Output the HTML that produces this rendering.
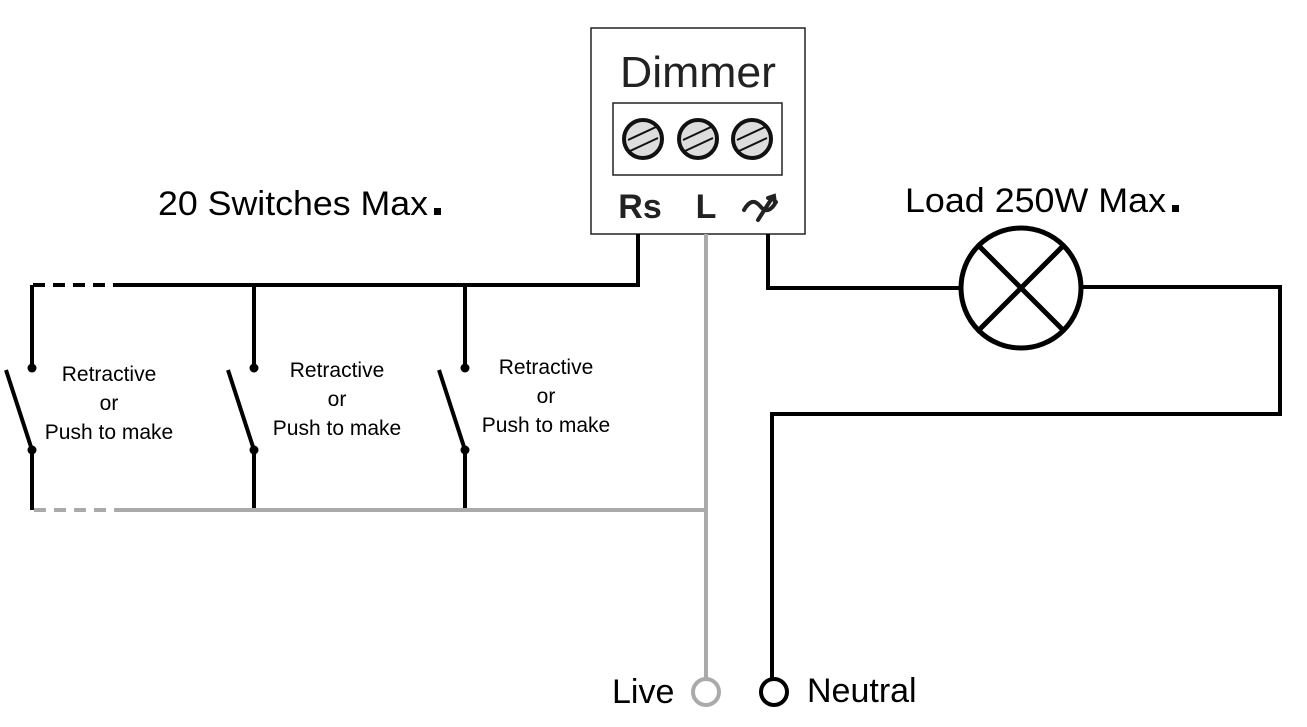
<!DOCTYPE html>
<html><head><meta charset="utf-8"><style>
html,body{margin:0;padding:0;background:#fff;}
svg{display:block;}
text{font-family:"Liberation Sans",sans-serif;}
</style></head><body>
<svg width="1307" height="727" viewBox="0 0 1307 727" xmlns="http://www.w3.org/2000/svg">
<rect x="591" y="28" width="214" height="206" fill="#fff" stroke="#222" stroke-width="1.5"/>
<text x="698" y="87" font-size="44" text-anchor="middle" fill="#222" textLength="156" lengthAdjust="spacingAndGlyphs">Dimmer</text>
<rect x="613" y="103" width="169" height="72" fill="#fff" stroke="#222" stroke-width="1.5"/>
<g stroke="#111" stroke-width="4" fill="#ddd">
<circle cx="643" cy="139" r="19"/><circle cx="698" cy="139" r="19"/><circle cx="752" cy="139" r="19"/>
</g>
<g stroke="#111" stroke-width="2">
<line x1="628" y1="140" x2="656" y2="127"/><line x1="630" y1="151" x2="658" y2="138"/>
<line x1="683" y1="140" x2="711" y2="127"/><line x1="685" y1="151" x2="713" y2="138"/>
<line x1="737" y1="140" x2="765" y2="127"/><line x1="739" y1="151" x2="767" y2="138"/>
</g>
<text x="640" y="218" font-size="34" font-weight="bold" text-anchor="middle" fill="#222">Rs</text>
<text x="706" y="218" font-size="34" font-weight="bold" text-anchor="middle" fill="#222">L</text>
<path d="M744 210 Q752 196 760 206 Q768 216 776 202 M758 220 L772 198 M768 198 L774 196 L775 203" stroke="#222" stroke-width="4" fill="none" stroke-linecap="round"/>
<text x="158" y="215" font-size="34" fill="#000" textLength="270" lengthAdjust="spacingAndGlyphs">20 Switches Max</text>
<rect x="434" y="208" width="7" height="7" fill="#000"/>
<text x="905" y="212" font-size="34" fill="#000" textLength="261" lengthAdjust="spacingAndGlyphs">Load 250W Max</text>
<rect x="1172" y="205" width="7" height="7" fill="#000"/>
<g stroke="#000" stroke-width="4" fill="none">
<line x1="33" y1="285" x2="125" y2="285" stroke-dasharray="12,8"/>
<polyline points="125,285 638,285 638,234"/>
<line x1="32" y1="285" x2="32" y2="368"/>
<line x1="254" y1="285" x2="254" y2="368"/>
<line x1="465" y1="285" x2="465" y2="368"/>
<line x1="6" y1="370" x2="32" y2="450"/>
<line x1="228" y1="370" x2="254" y2="450"/>
<line x1="439" y1="370" x2="465" y2="450"/>
<line x1="32" y1="450" x2="32" y2="510"/>
<line x1="254" y1="450" x2="254" y2="510"/>
<line x1="465" y1="450" x2="465" y2="510"/>
<polyline points="768,234 768,288 960,288"/>
<polyline points="1082,287 1280,287 1280,414 772,414 772,678"/>
<circle cx="1021" cy="288" r="60" stroke-width="5"/>
<line x1="979" y1="246" x2="1063" y2="330" stroke-width="5"/>
<line x1="1063" y1="246" x2="979" y2="330" stroke-width="5"/>
<circle cx="774" cy="692" r="13"/>
</g>
<g fill="#000">
<circle cx="32" cy="368" r="4.5"/><circle cx="254" cy="368" r="4.5"/><circle cx="465" cy="368" r="4.5"/>
<circle cx="32" cy="450" r="4.5"/><circle cx="254" cy="450" r="4.5"/><circle cx="465" cy="450" r="4.5"/>
</g>
<g stroke="#aaa" stroke-width="4" fill="none">
<line x1="34" y1="510" x2="125" y2="510" stroke-dasharray="12,8"/>
<line x1="125" y1="510" x2="706" y2="510"/>
<line x1="706" y1="234" x2="706" y2="678"/>
<circle cx="706" cy="692" r="13"/>
</g>
<g font-size="21" fill="#000" text-anchor="middle">
<text x="109" y="381">Retractive</text><text x="109" y="410">or</text><text x="109" y="439">Push to make</text>
<text x="337" y="377">Retractive</text><text x="337" y="406">or</text><text x="337" y="435">Push to make</text>
<text x="546" y="374">Retractive</text><text x="546" y="403">or</text><text x="546" y="432">Push to make</text>
</g>
<text x="612" y="703" font-size="34" fill="#000">Live</text>
<text x="807" y="702" font-size="34" fill="#000">Neutral</text>
</svg>
</body></html>
